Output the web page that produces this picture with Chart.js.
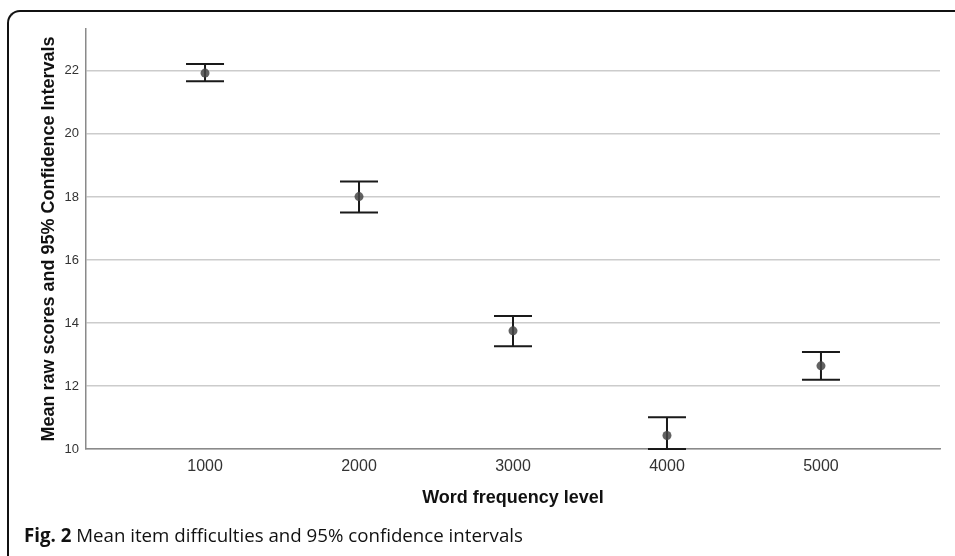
<!DOCTYPE html>
<html>
<head>
<meta charset="utf-8">
<script src="https://cdn.jsdelivr.net/npm/chart.js@4/dist/chart.umd.min.js"></script>
<style>
  html, body { margin: 0; padding: 0; background: #fff; overflow: hidden; }
  #wrap { position: relative; width: 955px; height: 556px; }
  #frame { position: absolute; left: 7px; top: 10px; width: 980px; height: 580px;
           border-top: 2px solid #111; border-left: 2px solid #111; border-top-left-radius: 13px; }
  #chartBox { position: absolute; left: 0; top: 0; width: 955px; height: 556px; }
  #caption { position: absolute; left: 24px; top: 522px; font-family: "Open Sans", sans-serif;
             font-size: 18.7px; color: #111; white-space: nowrap; }
  #caption b { font-weight: 700; }
</style>
</head>
<body>
<div id="wrap">
  <div id="frame"></div>
  <div id="chartBox"><canvas id="c" width="955" height="556"></canvas></div>
  <div id="caption"><b>Fig. 2</b> Mean item difficulties and 95% confidence intervals</div>
</div>
<script>
const levels = [1000, 2000, 3000, 4000, 5000];
const means  = [21.93, 18.01, 13.75, 10.43, 12.64];
const lower  = [21.67, 17.51, 13.26, 10.00, 12.20];
const upper  = [22.22, 18.49, 14.22, 11.01, 13.08];
const yTicks = [10, 12, 14, 16, 18, 20, 22];
const xTitle = 'Word frequency level';
const yTitle = 'Mean raw scores and 95% Confidence Intervals';

const errorBars = {
  id: 'errorBars',
  beforeDatasetsDraw(chart) {
    const { ctx, scales: { x, y } } = chart;
    const capHalf = 19;
    ctx.save();
    ctx.strokeStyle = '#1a1a1a';
    ctx.lineWidth = 2;
    levels.forEach((lv, i) => {
      const px = x.getPixelForValue(lv);
      const pl = y.getPixelForValue(lower[i]);
      const pu = y.getPixelForValue(upper[i]);
      ctx.beginPath();
      ctx.moveTo(px, pu); ctx.lineTo(px, pl);
      ctx.moveTo(px - capHalf, pu); ctx.lineTo(px + capHalf, pu);
      ctx.moveTo(px - capHalf, pl); ctx.lineTo(px + capHalf, pl);
      ctx.stroke();
    });
    ctx.restore();
  }
};

new Chart(document.getElementById('c'), {
  type: 'scatter',
  data: {
    datasets: [{
      data: levels.map((lv, i) => ({ x: lv, y: means[i] })),
      pointRadius: 4.5,
      pointBackgroundColor: 'rgba(70,70,70,0.85)',
      pointBorderWidth: 0,
      showLine: false
    }]
  },
  options: {
    responsive: false,
    animation: false,
    devicePixelRatio: 1,
    layout: { padding: { left: 0, right: 15, top: 29, bottom: 0 } },
    plugins: { legend: { display: false }, tooltip: { enabled: false } },
    scales: {
      x: {
        type: 'linear',
        min: 227, max: 5773,
        afterBuildTicks(scale) { scale.ticks = levels.map(v => ({ value: v })); },
        afterFit(scale) { scale.height = 107; },
        grid: { display: false, drawTicks: false },
        border: { display: true, color: '#8a8a8a', width: 1.5 },
        ticks: { padding: 8, color: '#333', font: { family: 'Liberation Sans', size: 16 },
                 callback: v => String(v), maxRotation: 0, autoSkip: false },
        title: { display: true, text: xTitle, color: '#111',
                 font: { family: 'Liberation Sans', size: 18, weight: 'bold' },
                 padding: { top: 0, bottom: 47 } }
      },
      y: {
        min: 10, max: 23.33,
        afterBuildTicks(scale) { scale.ticks = yTicks.map(v => ({ value: v })); },
        afterFit(scale) { scale.width = 86; },
        grid: { color: '#cccccc', lineWidth: 1.5, drawTicks: false },
        border: { display: true, color: '#8a8a8a', width: 1.5 },
        ticks: { padding: 7, color: '#333', font: { family: 'Liberation Sans', size: 13 } },
        title: { display: true, text: yTitle, color: '#111',
                 font: { family: 'Liberation Sans', size: 18, weight: 'bold' },
                 padding: { top: 38, bottom: 0 } }
      }
    }
  },
  plugins: [errorBars]
});
</script>
</body>
</html>
